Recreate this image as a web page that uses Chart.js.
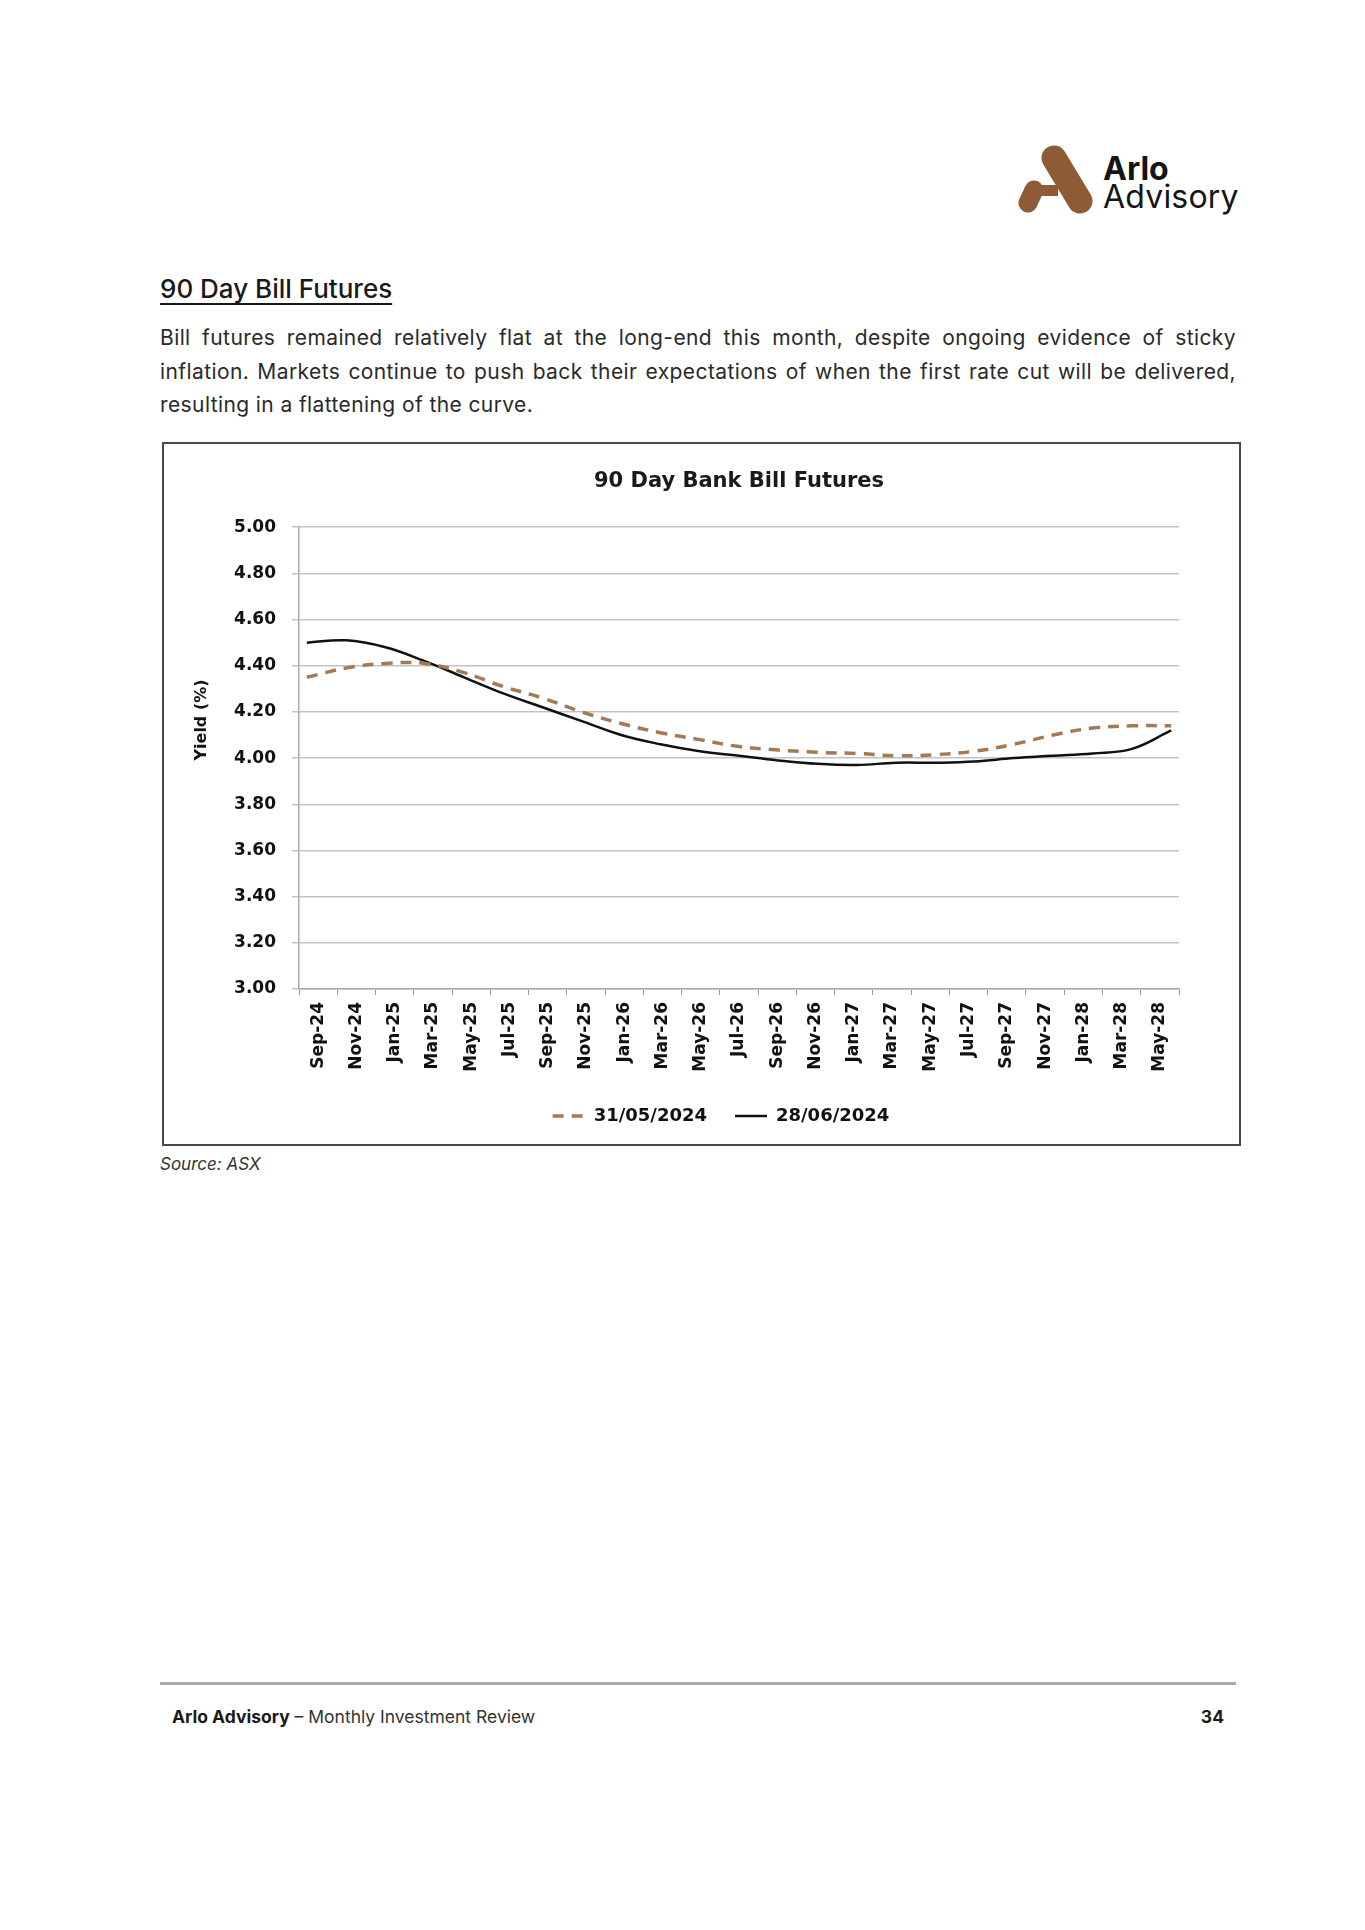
<!DOCTYPE html>
<html>
<head>
<meta charset="utf-8">
<script src="https://cdn.jsdelivr.net/npm/chart.js@4.4.1/dist/chart.umd.min.js"></script>
<style>
    body { margin: 0; background: #fff; }
    #page { position: relative; width: 1365px; height: 1930px; background: #fff; font-family: Inter, "Noto Sans", sans-serif; color: #222; }
    .abs { position: absolute; white-space: nowrap; }
    #logo { left: 1006px; top: 140px; }
    .brand1 { left: 1103px; top: 153px; font-size: 32px; line-height: 32px; font-weight: 700; color: #151515; }
    .brand2 { left: 1103px; top: 181px; font-size: 32px; line-height: 32px; font-weight: 400; color: #151515; letter-spacing: 0.2px; }
    h2 { position: absolute; left: 160px; top: 276px; margin: 0; font-size: 26px; line-height: 26px; font-weight: 500; color: #1a1a1a;
         text-decoration: underline; text-decoration-thickness: 2px; text-underline-offset: 5px; }
    #intro { position: absolute; left: 160px; top: 321px; width: 1076px; font-size: 21px; line-height: 33.5px; letter-spacing: 0.4px; color: #2a2a2a; }
    #intro div { white-space: nowrap; }
    #intro .j { text-align: justify; text-align-last: justify; }
    #frame { position: absolute; left: 162px; top: 442px; width: 1079px; height: 704px; box-sizing: border-box; border: 2px solid #4a4a4a; background: #fff; }
    #source { left: 160px; top: 1154px; font-size: 17px; font-style: italic; color: #333; }
    #rule { position: absolute; left: 160px; top: 1682px; width: 1076px; height: 3px; background: #a9a9a9; }
    #foot { left: 172px; top: 1706px; font-size: 17.5px; color: #333; }
    #pnum { right: 141px; top: 1706px; font-size: 17.5px; font-weight: 700; color: #1a1a1a; }
</style>
</head>
<body>
<div id="page">
    <svg id="logo" class="abs" width="90" height="80" viewBox="0 0 90 80">
        <g stroke="#8d5b35" stroke-linecap="round" fill="none">
            <line x1="48" y1="18" x2="74" y2="61" stroke-width="25"/>
            <line x1="28" y1="50" x2="22" y2="63" stroke-width="19"/>
        </g>
        <rect x="32" y="45" width="20" height="11" fill="#8d5b35"/>
    </svg>
    <div class="abs brand1">Arlo</div>
    <div class="abs brand2">Advisory</div>

    <h2>90 Day Bill Futures</h2>
    <div id="intro">
        <div class="j">Bill futures remained relatively flat at the long-end this month, despite ongoing evidence of sticky</div>
        <div class="j">inflation. Markets continue to push back their expectations of when the first rate cut will be delivered,</div>
        <div>resulting in a flattening of the curve.</div>
    </div>

    <div id="frame"><canvas id="billChart" width="1075" height="700"></canvas></div>
    <div id="source" class="abs">Source: ASX</div>

    <div id="rule"></div>
    <div id="foot" class="abs"><b style="color:#1a1a1a">Arlo Advisory</b> – Monthly Investment Review</div>
    <div id="pnum" class="abs">34</div>
</div>

<script>
// contract months on the x axis
const months = ["Sep-24", "Nov-24", "Jan-25", "Mar-25", "May-25", "Jul-25", "Sep-25", "Nov-25",
    "Jan-26", "Mar-26", "May-26", "Jul-26", "Sep-26", "Nov-26", "Jan-27", "Mar-27",
    "May-27", "Jul-27", "Sep-27", "Nov-27", "Jan-28", "Mar-28", "May-28"];

// implied yields (%)
const yieldsMay31 = [4.35, 4.39, 4.41, 4.41, 4.37, 4.31, 4.26, 4.20, 4.15, 4.11, 4.08, 4.05,
    4.035, 4.025, 4.02, 4.01, 4.015, 4.03, 4.06, 4.10, 4.13, 4.14, 4.14];
const yieldsJun28 = [4.50, 4.51, 4.48, 4.42, 4.35, 4.28, 4.22, 4.16, 4.10, 4.06, 4.03, 4.01,
    3.99, 3.975, 3.97, 3.98, 3.98, 3.985, 4.00, 4.01, 4.02, 4.04, 4.12];

const seriesNames = ["31/05/2024", "28/06/2024"];
const yMin = 3.0, yMax = 5.0, yStep = 0.2;

const toPoints = arr => arr.map((v, i) => ({ x: i, y: v }));

// y axis caption, placed like the original (a bit above centre)
const yCaption = {
    id: "yCaption",
    afterDraw(chart) {
        const ctx = chart.ctx;
        ctx.save();
        ctx.translate(38, 276);
        ctx.rotate(-Math.PI / 2);
        ctx.font = "bold 16px 'DejaVu Sans'";
        ctx.fillStyle = "#111";
        ctx.textAlign = "center";
        ctx.textBaseline = "middle";
        ctx.fillText("Yield (%)", 0, 0);
        ctx.restore();
    }
};

// the original legend sits a little left of the plot centre
const legendShift = {
    id: "legendShift",
    beforeDraw(chart) {
        const lg = chart.legend, area = chart.chartArea;
        lg.left = area.left - 18;
        lg.right = area.right - 18;
    }
};

const ctx = document.getElementById("billChart").getContext("2d");
new Chart(ctx, {
    type: "line",
    data: {
        labels: months,
        datasets: [{
            label: seriesNames[0],
            data: toPoints(yieldsMay31),
            xAxisID: "x2",
            borderColor: "#a37a55",
            borderWidth: 3.5,
            borderDash: [11, 8],
            pointRadius: 0,
            tension: 0.4,
            fill: false
        }, {
            label: seriesNames[1],
            data: toPoints(yieldsJun28),
            xAxisID: "x2",
            borderColor: "#111",
            borderWidth: 2.5,
            pointRadius: 0,
            tension: 0.4,
            fill: false
        }]
    },
    options: {
        responsive: false,
        animation: false,
        layout: { padding: { top: 0, right: 60, bottom: 9, left: 0 } },
        plugins: {
            title: {
                display: true,
                fullSize: false,
                text: "90 Day Bank Bill Futures",
                color: "#1a1a1a",
                font: { family: "'DejaVu Sans'", weight: "bold", size: 21 },
                padding: { top: 25, bottom: 33 }
            },
            legend: {
                position: "bottom",
                fullSize: false,
                labels: {
                    usePointStyle: true,
                    pointStyle: "line",
                    pointStyleWidth: 32,
                    padding: 28,
                    color: "#111",
                    font: { family: "'DejaVu Sans'", weight: "bold", size: 18 },
                    generateLabels(chart) {
                        const items = Chart.defaults.plugins.legend.labels.generateLabels(chart);
                        items.forEach(item => {
                            const ds = chart.data.datasets[item.datasetIndex];
                            item.lineDash = ds.borderDash || [];
                            item.lineWidth = ds.borderWidth;
                            item.strokeStyle = ds.borderColor;
                        });
                        return items;
                    }
                }
            },
            tooltip: { enabled: false }
        },
        scales: {
            x: {
                type: "category",
                position: "bottom",
                offset: true,
                grid: { drawOnChartArea: false, drawTicks: true, tickLength: 6, color: "#999", offset: true },
                border: { color: "#aaa", width: 1.5 },
                ticks: {
                    autoSkip: false, minRotation: 90, maxRotation: 90, padding: 7,
                    color: "#111",
                    font: { family: "'DejaVu Sans'", weight: "bold", size: 17 }
                },
                afterFit(scale) { scale.height = 90; }
            },
            x2: { type: "linear", display: false, min: -0.2, max: months.length - 0.8 },
            y: {
                min: yMin,
                max: yMax,
                grid: { color: "#c3c3c3", lineWidth: 1.5, tickLength: 7 },
                border: { color: "#aaa", width: 1.5 },
                ticks: {
                    stepSize: yStep,
                    padding: 16,
                    color: "#111",
                    font: { family: "'DejaVu Sans'", weight: "bold", size: 17 },
                    callback: v => Number(v).toFixed(2)
                },
                afterFit(scale) { scale.width = 135; }
            }
        }
    },
    plugins: [yCaption, legendShift]
});
</script>
</body>
</html>
